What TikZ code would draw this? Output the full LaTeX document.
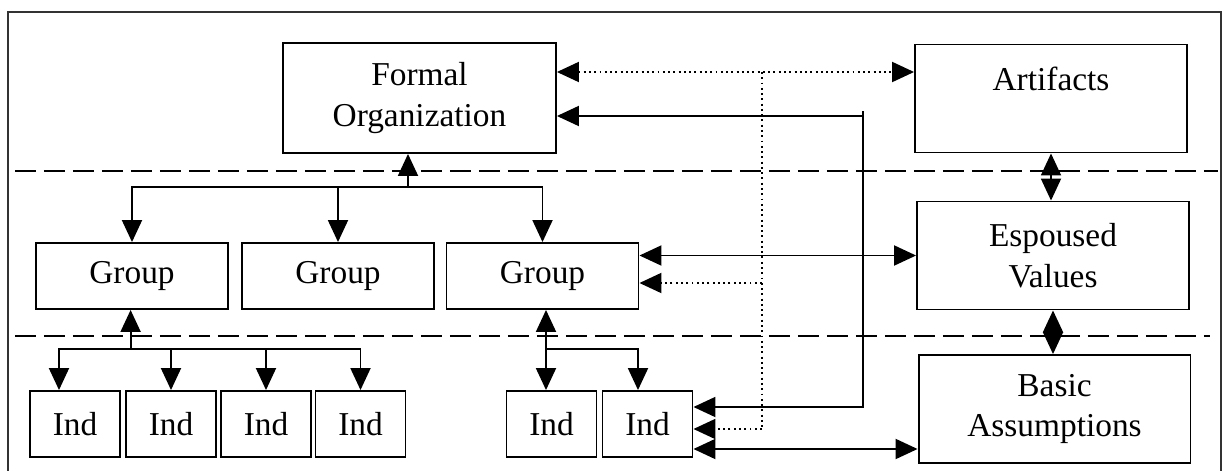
\documentclass[tikz,border=0pt]{standalone}
\usepackage{fontspec}
\setmainfont{Liberation Serif}
\usetikzlibrary{arrows.meta, positioning}

\begin{document}
\begin{tikzpicture}[
      x=0.02cm, y=-0.02cm,
      box/.style={draw=black, line width=1.1pt, align=center, inner sep=0pt, font=\fontsize{19}{23}\selectfont},
      bigbox/.style={box, minimum width=5.44cm, minimum height=2.16cm},
      grpbox/.style={box, minimum width=3.84cm, minimum height=1.32cm},
      indbox/.style={box, minimum width=1.8cm, minimum height=1.32cm},
      arrow/.style={-{Triangle[length=4.4mm, width=4mm]}, line width=1.1pt},
      dblarrow/.style={{Triangle[length=4.4mm, width=4mm]}-{Triangle[length=4.4mm, width=4mm]}, line width=1.1pt},
      dotline/.style={line width=1.1pt, dash pattern=on 1.1pt off 1.9pt},
      sepline/.style={line width=1.1pt, dash pattern=on 0.42cm off 0.16cm}
    ]

      % Page size and outer frame (bottom edge cut off)
      \useasboundingbox (0,0) rectangle (1223,470);
      \draw[line width=1.1pt, black!80] (8,490) |- (1221,12) -- (1221,490);

      % Level separators
      \draw[sepline] (15,171) -- (1218,171);
      \draw[sepline] (15,336) -- (1210,336);

      % Left side: organization, groups, individuals
      \node[box, minimum width=5.46cm, minimum height=2.2cm] (formal_org) at (419.5,98) {Formal\\Organization};

      \foreach \i/\x in {1/132, 2/338, 3/542.5} {
        \node[grpbox] (group_\i) at (\x,276) {Group};
      }

      \foreach \i/\x in {1/75, 2/171, 3/266, 4/360.5, 5/551.5, 6/647.5} {
        \node[indbox] (ind_\i) at (\x,424) {Ind};
      }

      % Right side: culture levels
      \node[bigbox] (artifacts) at (1051,98.5) {Artifacts\\~};
      \node[bigbox] (espoused_vals) at (1053,255.5) {Espoused\\Values};
      \node[bigbox] (basic_assump) at (1054.5,409) {Basic\\Assumptions};

      % Organization to groups
      \coordinate (grp_split) at (408,187);
      \draw[arrow] (grp_split) -- (grp_split |- formal_org.south);
      \draw[arrow] (grp_split) -| (group_1.north);
      \draw[arrow] (grp_split) -| (group_3.north);
      \draw[arrow] (grp_split -| group_2.north) -- (group_2.north);

      % Group 1 to its individuals
      \coordinate (ind_split) at (130.6,349);
      \draw[arrow] (ind_split) -- (ind_split |- group_1.south);
      \draw[arrow] (ind_split) -| ([xshift=-0.32cm]ind_1.north);
      \foreach \i in {2,3,4} {
        \draw[arrow] (ind_split) -| (ind_\i.north);
      }

      % Group 3 to its individuals
      \coordinate (grp3_split) at (546,349);
      \draw[dblarrow] (grp3_split |- group_3.south) -- (grp3_split |- ind_5.north);
      \draw[arrow] (grp3_split) -| ([xshift=-0.19cm]ind_6.north);

      % Between the culture levels
      \draw[dblarrow] (artifacts.south) -- (artifacts.south |- espoused_vals.north);
      \draw[dblarrow] (espoused_vals.south) -- (espoused_vals.south |- basic_assump.north);

      % Dotted links
      \coordinate (dot_top) at (762,72);
      \coordinate (dot_mid) at (762,283);
      \coordinate (dot_end) at (762,429);
      \draw[dotline, dblarrow] (formal_org.east |- dot_top) -- (artifacts.west |- dot_top);
      \draw[dotline] (dot_top) -- (dot_end);
      \draw[dotline, arrow] (dot_mid) -- (dot_mid -| group_3.east);
      \draw[dotline, arrow] (dot_end) -- (dot_end -| ind_6.east);

      % Solid links
      \coordinate (sol_top) at (863,111);
      \coordinate (sol_mid) at (863,116);
      \coordinate (sol_end) at (863,407);
      \draw[arrow] (sol_top) -- (sol_end) -- (sol_end -| ind_6.east);
      \draw[arrow] (sol_mid) -- (sol_mid -| formal_org.east);
      \draw[dblarrow] (group_3.east |- espoused_vals.west) -- (espoused_vals.west);
      \draw[dblarrow] ([yshift=-0.5cm]ind_6.east) -- ([yshift=-0.5cm]ind_6.east -| basic_assump.west);

    \end{tikzpicture}
\end{document}
